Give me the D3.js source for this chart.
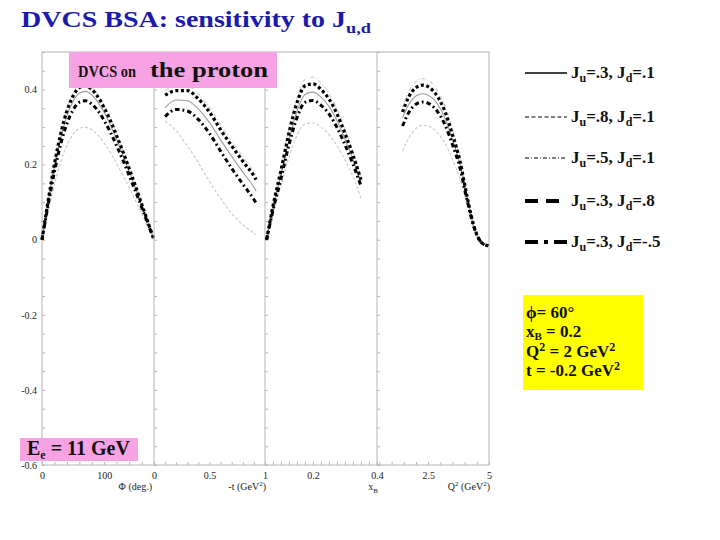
<!DOCTYPE html>
<html>
<head>
<meta charset="utf-8">
<script src="https://cdn.jsdelivr.net/npm/d3@7"></script>
<style>
  body { margin: 0; background: #fff; }
  svg { display: block; font-family: "Liberation Serif", "Times New Roman", serif; }
</style>
</head>
<body>
<svg id="chart" width="720" height="540"></svg>
<script>
// --- data ---
// legend entries (Ju, Jd)
var seriesNames = ["Ju=.3, Jd=.1", "Ju=.8, Jd=.1", "Ju=.5, Jd=.1", "Ju=.3, Jd=.8", "Ju=.3, Jd=-.5"];

// panel 1 : Phi (deg.)
var phiDeg   = [0, 10, 20, 30, 40, 50, 60, 70, 80, 90, 100, 110, 120, 130, 140, 150, 160, 170, 180];
var phiJu3   = [0, .101, .194, .271, .330, .369, .390, .395, .386, .366, .339, .305, .267, .226, .183, .138, .092, .047, 0];
var phiJu8   = [0, .077, .147, .206, .251, .281, .296, .300, .293, .278, .257, .232, .203, .172, .139, .105, .070, .035, 0];
var phiJu5   = [0, .107, .205, .287, .349, .391, .413, .418, .408, .387, .358, .323, .283, .239, .194, .146, .098, .049, 0];
var phiJd8   = [0, .105, .201, .282, .343, .383, .405, .410, .400, .380, .351, .317, .277, .235, .190, .144, .096, .048, 0];
var phiJdm5  = [0, .094, .181, .254, .309, .346, .366, .370, .361, .343, .317, .286, .250, .212, .171, .130, .087, .044, 0];

// panel 2 : -t (GeV2)
var tVal     = [0.1, 0.2, 0.3, 0.4, 0.5, 0.6, 0.7, 0.8, 0.9, 0.92];
var tJu3     = [.352, .372, .370, .348, .312, .266, .222, .180, .140, .130];
var tJu8     = [.316, .290, .250, .205, .155, .110, .070, .040, .018, .014];
var tJu5     = [.397, .410, .410, .388, .353, .306, .262, .221, .182, .172];
var tJd8     = [.385, .397, .397, .375, .340, .293, .250, .209, .170, .160];
var tJdm5    = [.328, .347, .343, .320, .283, .236, .190, .148, .107, .097];

// panel 3 : xB
var xbVal    = [0.055, 0.075, 0.1, 0.125, 0.15, 0.175, 0.2, 0.225, 0.25, 0.275, 0.3, 0.325, 0.35];
var xbJu3    = [0, .083, .172, .266, .343, .387, .393, .380, .355, .317, .268, .213, .152];
var xbJu8    = [0, .070, .145, .220, .278, .308, .311, .300, .280, .250, .212, .168, .110];
var xbJu5    = [0, .092, .190, .295, .379, .427, .433, .417, .391, .349, .295, .235, .168];
var xbJd8    = [0, .090, .185, .285, .365, .410, .415, .400, .375, .335, .283, .225, .160];
var xbJdm5   = [0, .078, .163, .253, .325, .366, .371, .358, .335, .299, .253, .201, .143];

// panel 4 : Q2 (GeV2)
var q2Val    = [1.45, 1.7, 2.0, 2.3, 2.6, 2.9, 3.2, 3.5, 3.8, 4.1, 4.4, 4.7, 4.97];
var q2Ju3    = [.325, .360, .383, .389, .381, .360, .322, .267, .203, .111, .031, -.008, -.016];
var q2Ju8    = [.236, .270, .296, .305, .300, .284, .256, .214, .165, .092, .026, -.008, -.016];
var q2Ju5    = [.352, .395, .421, .429, .420, .396, .355, .293, .222, .120, .034, -.008, -.016];
var q2Jd8    = [.340, .380, .405, .412, .403, .380, .340, .280, .212, .115, .032, -.008, -.016];
var q2Jdm5   = [.303, .338, .361, .367, .360, .340, .305, .253, .193, .106, .030, -.008, -.016];

// axis ticks
var yTickLabels = [-0.6, -0.4, -0.2, 0, 0.2, 0.4];
var phiLabels = [0, 100], tLabels = [0, 0.5, 1], xbLabels = [0.2, 0.4], q2Labels = [2.5, 5];

// --- layout ---
var svg = d3.select("#chart");
var plotL = 42, plotR = 489, plotT = 52, plotB = 465;
var edges = [42, 154, 265, 377, 489];
var frameColor = "#b4b4b4";

var y = d3.scaleLinear().domain([-0.6, 0.5]).range([plotB, plotT]);

var panels = [
  { x: phiDeg, dom: [0, 180], minor: d3.range(0, 181, 20), labels: phiLabels, fmt: d3.format("d"),
    s: [phiJu3, phiJu8, phiJu5, phiJd8, phiJdm5] },
  { x: tVal, dom: [0, 1], minor: d3.range(0, 1.001, 0.1), labels: tLabels, fmt: function(d) { return d == 0.5 ? "0.5" : d; },
    s: [tJu3, tJu8, tJu5, tJd8, tJdm5] },
  { x: xbVal, dom: [0.05, 0.4], minor: d3.range(0.05, 0.401, 0.025), labels: xbLabels, fmt: d3.format(".1f"),
    s: [xbJu3, xbJu8, xbJu5, xbJd8, xbJdm5] },
  { x: q2Val, dom: [0.4, 5], minor: d3.range(0.5, 5.01, 0.5), labels: q2Labels, fmt: function(d) { return d; },
    s: [q2Ju3, q2Ju8, q2Ju5, q2Jd8, q2Jdm5] }
];

// line styles in the plot (order = seriesNames)
var plotStyles = [
  { stroke: "#9a9a9a", width: 1.1, dash: null },
  { stroke: "#c8c8c8", width: 1.1, dash: "3,2" },
  { stroke: "#cfcfcf", width: 1.1, dash: "4,2,1,2" },
  { stroke: "#000", width: 3.2, dash: "3,2.6" },
  { stroke: "#000", width: 3.0, dash: "4.5,3,1.8,3" }
];

// frame
svg.append("rect").attr("x", plotL).attr("y", plotT).attr("width", plotR - plotL).attr("height", plotB - plotT)
  .attr("fill", "none").attr("stroke", frameColor).attr("stroke-width", 1);

var yMinor = d3.range(-0.6, 0.501, 0.05).map(function(d) { return +d.toFixed(2); });

panels.forEach(function(p, i) {
  var x = d3.scaleLinear().domain(p.dom).range([edges[i], edges[i + 1]]);
  var g = svg.append("g");

  // separator
  if (i > 0) {
    g.append("line").attr("x1", edges[i]).attr("x2", edges[i]).attr("y1", plotT).attr("y2", plotB)
      .attr("stroke", frameColor).attr("stroke-width", 1);
  }

  // y minor ticks along each panel's left edge
  var ya = g.append("g").attr("transform", "translate(" + edges[i] + ",0)")
    .call(d3.axisRight(y).tickValues(yMinor).tickSize(3).tickFormat(""));
  ya.select(".domain").remove();
  ya.selectAll("line").attr("stroke", frameColor);

  // x minor ticks (pointing up)
  var xa = g.append("g").attr("transform", "translate(0," + plotB + ")")
    .call(d3.axisTop(x).tickValues(p.minor).tickSize(3).tickFormat(""));
  xa.select(".domain").remove();
  xa.selectAll("line").attr("stroke", frameColor);

  // x labels
  var xl = g.append("g").attr("transform", "translate(0," + plotB + ")")
    .call(d3.axisBottom(x).tickValues(p.labels).tickSize(0).tickPadding(7).tickFormat(p.fmt));
  xl.select(".domain").remove();
  xl.selectAll("text").attr("font-family", "Liberation Serif").attr("font-size", 10).attr("fill", "#222");

  // curves
  var line = d3.line()
    .x(function(d) { return x(d[0]); })
    .y(function(d) { return y(d[1]); })
    .curve(d3.curveMonotoneX);

  [1, 2, 0, 4, 3].forEach(function(k) {
    var st = plotStyles[k];
    g.append("path")
      .datum(p.x.map(function(v, j) { return [v, p.s[k][j]]; }))
      .attr("d", line)
      .attr("fill", "none")
      .attr("stroke", st.stroke)
      .attr("stroke-width", st.width)
      .attr("stroke-dasharray", st.dash);
  });
});

// y labels (plain hyphen for the minus sign, as in the picture)
var yl = svg.append("g").attr("transform", "translate(" + plotL + ",0)")
  .call(d3.axisLeft(y).tickValues(yTickLabels).tickSize(0).tickPadding(5)
    .tickFormat(function(d) { return d == 0 ? "0" : (d < 0 ? "-" : "") + Math.abs(d).toFixed(1); }));
yl.select(".domain").remove();
yl.selectAll("text").attr("font-family", "Liberation Serif").attr("font-size", 10).attr("fill", "#222");

// axis titles
var at = svg.append("g").attr("font-size", 10).attr("fill", "#222").attr("text-anchor", "end");
at.append("text").attr("x", 152).attr("y", 490).text("\u03A6 (deg.)");
var tt = at.append("text").attr("x", 266).attr("y", 490);
tt.append("tspan").text("-t (GeV");
tt.append("tspan").attr("font-size", 7).attr("dy", -4).text("2");
tt.append("tspan").attr("dy", 4).text(")");
var xt = at.append("text").attr("x", 378).attr("y", 490);
xt.append("tspan").text("x");
xt.append("tspan").attr("font-size", 7).attr("dy", 3).text("B");
var qt = at.append("text").attr("x", 490).attr("y", 490);
qt.append("tspan").text("Q");
qt.append("tspan").attr("font-size", 7).attr("dy", -4).text("2");
qt.append("tspan").attr("dy", 4).text(" (GeV");
qt.append("tspan").attr("font-size", 7).attr("dy", -4).text("2");
qt.append("tspan").attr("dy", 4).text(")");

// title
var title = svg.append("text").attr("x", 21).attr("y", 27)
  .attr("font-size", 23).attr("font-weight", "bold").attr("fill", "#1a1aac")
  .attr("textLength", 350).attr("lengthAdjust", "spacingAndGlyphs");
title.append("tspan").text("DVCS BSA: sensitivity to J");
title.append("tspan").attr("font-size", 15).attr("dy", 6).text("u,d");

// pink boxes
svg.append("rect").attr("x", 69).attr("y", 52).attr("width", 208).attr("height", 36).attr("fill", "#f7a3e3");
svg.append("text").attr("x", 78).attr("y", 77).attr("fill", "#111").attr("font-weight", "bold")
  .attr("font-size", 16).attr("textLength", 58).attr("lengthAdjust", "spacingAndGlyphs").text("DVCS on");
svg.append("text").attr("x", 150).attr("y", 77).attr("fill", "#111").attr("font-weight", "bold")
  .attr("font-size", 20).attr("textLength", 118).attr("lengthAdjust", "spacingAndGlyphs")
  .text("the proton");

svg.append("rect").attr("x", 20).attr("y", 438).attr("width", 118).attr("height", 23).attr("fill", "#f7a3e3");
var et = svg.append("text").attr("x", 27).attr("y", 455).attr("fill", "#111").attr("font-weight", "bold").attr("font-size", 20);
et.append("tspan").text("E");
et.append("tspan").attr("font-size", 12).attr("dy", 4).text("e");
et.append("tspan").attr("dy", -4).text(" = 11 GeV");

// legend
var legendStyles = [
  { width: 1.5, dash: null },
  { width: 1.2, dash: "4,2.5" },
  { width: 1.1, dash: "4,2,1,2" },
  { width: 4, dash: "13,8" },
  { width: 4, dash: "13,6,4,6" }
];
var legendJ = [[".3", ".1"], [".8", ".1"], [".5", ".1"], [".3", ".8"], [".3", "-.5"]];
var legendY = [73, 117, 158, 201, 242];

var leg = svg.append("g");
seriesNames.forEach(function(name, i) {
  var st = legendStyles[i];
  leg.append("line").attr("x1", 525).attr("x2", 567).attr("y1", legendY[i]).attr("y2", legendY[i])
    .attr("stroke", "#000").attr("stroke-width", st.width).attr("stroke-dasharray", st.dash);
  var t = leg.append("text").attr("x", 571).attr("y", legendY[i] + 5)
    .attr("font-size", 17).attr("font-weight", "bold").attr("fill", "#111");
  t.append("tspan").text("J");
  t.append("tspan").attr("font-size", 12).attr("dy", 4).text("u");
  t.append("tspan").attr("dy", -4).text("=" + legendJ[i][0] + ", J");
  t.append("tspan").attr("font-size", 12).attr("dy", 4).text("d");
  t.append("tspan").attr("dy", -4).text("=" + legendJ[i][1]);
});

// kinematics box
svg.append("rect").attr("x", 523).attr("y", 295).attr("width", 120).attr("height", 95).attr("fill", "#ffff00");
var kb = svg.append("g").attr("font-size", 17).attr("font-weight", "bold").attr("fill", "#111");
var k1 = kb.append("text").attr("x", 526).attr("y", 318);
k1.append("tspan").text("\u03D5= 60\u00B0");
var k2 = kb.append("text").attr("x", 526).attr("y", 337);
k2.append("tspan").text("x");
k2.append("tspan").attr("font-size", 11).attr("dy", 3).text("B");
k2.append("tspan").attr("dy", -3).text(" = 0.2");
var k3 = kb.append("text").attr("x", 526).attr("y", 357);
k3.append("tspan").text("Q");
k3.append("tspan").attr("font-size", 12).attr("dy", -6).text("2");
k3.append("tspan").attr("dy", 6).text(" = 2 GeV");
k3.append("tspan").attr("font-size", 12).attr("dy", -6).text("2");
var k4 = kb.append("text").attr("x", 526).attr("y", 376);
k4.append("tspan").text("t = -0.2 GeV");
k4.append("tspan").attr("font-size", 12).attr("dy", -6).text("2");
</script>
</body>
</html>
